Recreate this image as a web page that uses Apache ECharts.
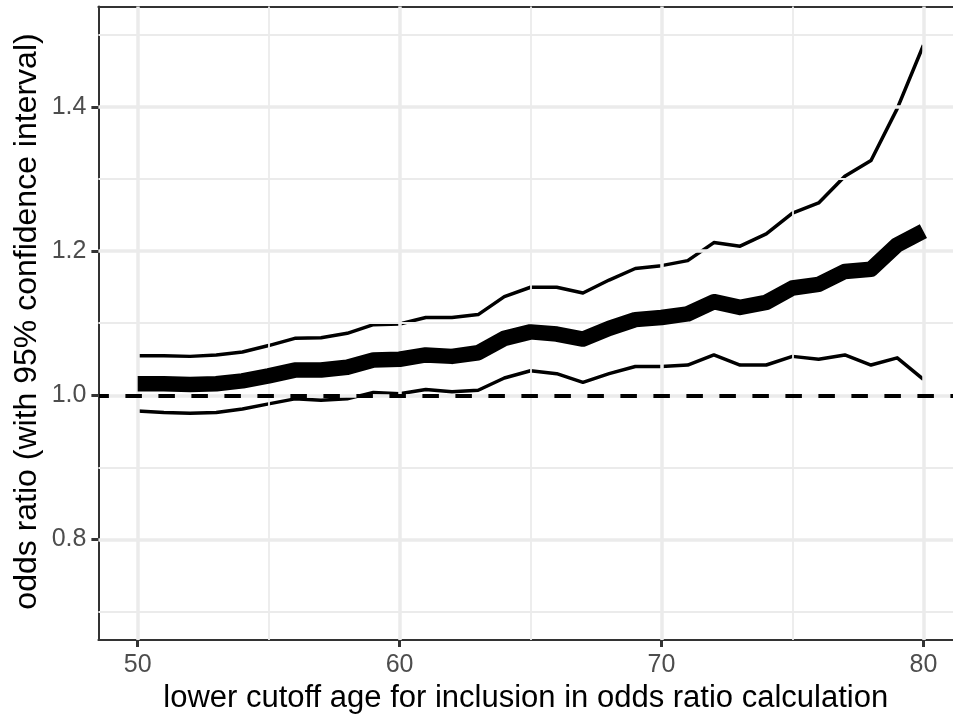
<!DOCTYPE html>
<html>
<head>
<meta charset="utf-8">
<script src="https://cdn.jsdelivr.net/npm/echarts@6/dist/echarts.min.js"></script>
<style>
html,body{margin:0;padding:0;background:#fff;}
#chart{width:953px;height:719px;}
</style>
</head>
<body>
<div id="chart"></div>
<script>
// ---- data ----
var ages = [50,51,52,53,54,55,56,57,58,59,60,61,62,63,64,65,66,67,68,69,70,71,72,73,74,75,76,77,78,79,80];
var oddsRatio = [1.016,1.016,1.015,1.016,1.020,1.027,1.035,1.035,1.039,1.049,1.050,1.056,1.054,1.059,1.079,1.088,1.085,1.078,1.093,1.105,1.108,1.113,1.130,1.122,1.129,1.149,1.154,1.172,1.175,1.209,1.228];
var upperCI = [1.055,1.055,1.054,1.056,1.060,1.069,1.079,1.080,1.086,1.098,1.099,1.108,1.108,1.112,1.137,1.150,1.150,1.142,1.160,1.176,1.180,1.187,1.212,1.207,1.224,1.253,1.267,1.304,1.326,1.398,1.486];
var lowerCI = [0.978,0.976,0.975,0.976,0.981,0.988,0.995,0.993,0.995,1.004,1.002,1.008,1.005,1.007,1.024,1.034,1.030,1.018,1.030,1.040,1.040,1.042,1.056,1.042,1.042,1.054,1.050,1.056,1.042,1.052,1.022];
var referenceLine = 1.0;
var xTicks = [50,60,70,80];
var xMinorTicks = [55,65,75];
var yTicks = [0.8,1.0,1.2,1.4];
var yMinorTicks = [0.7,0.9,1.1,1.3,1.5];
var xTitle = 'lower cutoff age for inclusion in odds ratio calculation';
var yTitle = 'odds ratio (with 95% confidence interval)';

function pairs(vals){ return ages.map(function(a,i){ return [a, vals[i]]; }); }

var FONT = 'Liberation Sans, Arial, sans-serif';
var GRID = '#EBEBEB';
var BORDER = {color: '#333333', width: 2};

function gridLines(axisKey, vals, width){
  return vals.map(function(v){
    var o = {}; o[axisKey] = v;
    o.lineStyle = {color: GRID, width: width, type: 'solid'};
    return o;
  });
}

var chart = echarts.init(document.getElementById('chart'), null, {renderer: 'canvas'});
chart.setOption({
  animation: false,
  backgroundColor: '#ffffff',
  grid: {
    left: 98.4, right: 0, top: 6.4, bottom: 72.1,
    show: false, containLabel: false
  },
  graphic: [{
    type: 'text', x: 27, y: 321.5, rotation: Math.PI / 2, silent: true,
    style: {text: yTitle, font: '32px ' + FONT, fill: '#000', align: 'center', verticalAlign: 'middle'}
  }],
  xAxis: [{
    type: 'value', min: 48.5, max: 81.13,
    name: xTitle, nameLocation: 'middle', nameGap: 41,
    nameTextStyle: {fontFamily: FONT, fontSize: 31, color: '#000'},
    axisLine: {show: true, onZero: false, lineStyle: BORDER},
    axisTick: {show: true, customValues: xTicks, length: 7, lineStyle: {color: '#333333', width: 3}},
    axisLabel: {show: true, customValues: xTicks, margin: 13, fontFamily: FONT, fontSize: 25, color: '#4D4D4D'},
    splitLine: {show: false}
  }, {
    type: 'value', position: 'top', min: 48.5, max: 81.13,
    axisLine: {show: true, onZero: false, lineStyle: BORDER},
    axisTick: {show: false}, axisLabel: {show: false}, splitLine: {show: false}
  }],
  yAxis: {
    type: 'value', min: 0.66, max: 1.54,
    axisLine: {show: true, onZero: false, lineStyle: BORDER},
    axisTick: {show: true, customValues: yTicks, length: 7, lineStyle: {color: '#333333', width: 3}},
    axisLabel: {show: true, customValues: yTicks, margin: 12, fontFamily: FONT, fontSize: 25, color: '#4D4D4D',
      formatter: function(v){ return Number(v).toFixed(1); }},
    splitLine: {show: false}
  },
  series: [
    {
      type: 'line', z: -1, data: [], silent: true,
      markLine: {
        silent: true, symbol: 'none', animation: false,
        label: {show: false},
        emphasis: {disabled: true},
        data: [].concat(
          gridLines('yAxis', yMinorTicks, 1.8),
          gridLines('xAxis', xMinorTicks, 1.8),
          gridLines('yAxis', yTicks, 3.5),
          gridLines('xAxis', xTicks, 3.5)
        )
      }
    },
    {
      type: 'line', z: 3, data: [], silent: true,
      markLine: {
        silent: true, symbol: 'none', animation: false,
        label: {show: false},
        emphasis: {disabled: true},
        data: [{yAxis: referenceLine, lineStyle: {color: '#000', width: 4, type: [16.5, 16.5], dashOffset: 6}}]
      }
    },
    {
      name: 'upper', type: 'line', z: 4, data: pairs(upperCI), showSymbol: false, silent: true,
      lineStyle: {color: '#000', width: 3.5, join: 'round', cap: 'butt'}
    },
    {
      name: 'lower', type: 'line', z: 4, data: pairs(lowerCI), showSymbol: false, silent: true,
      lineStyle: {color: '#000', width: 3.5, join: 'round', cap: 'butt'}
    },
    {
      name: 'odds ratio', type: 'line', z: 5, data: pairs(oddsRatio), showSymbol: false, silent: true,
      lineStyle: {color: '#000', width: 15.5, join: 'round', cap: 'butt'}
    }
  ]
});
</script>
</body>
</html>
